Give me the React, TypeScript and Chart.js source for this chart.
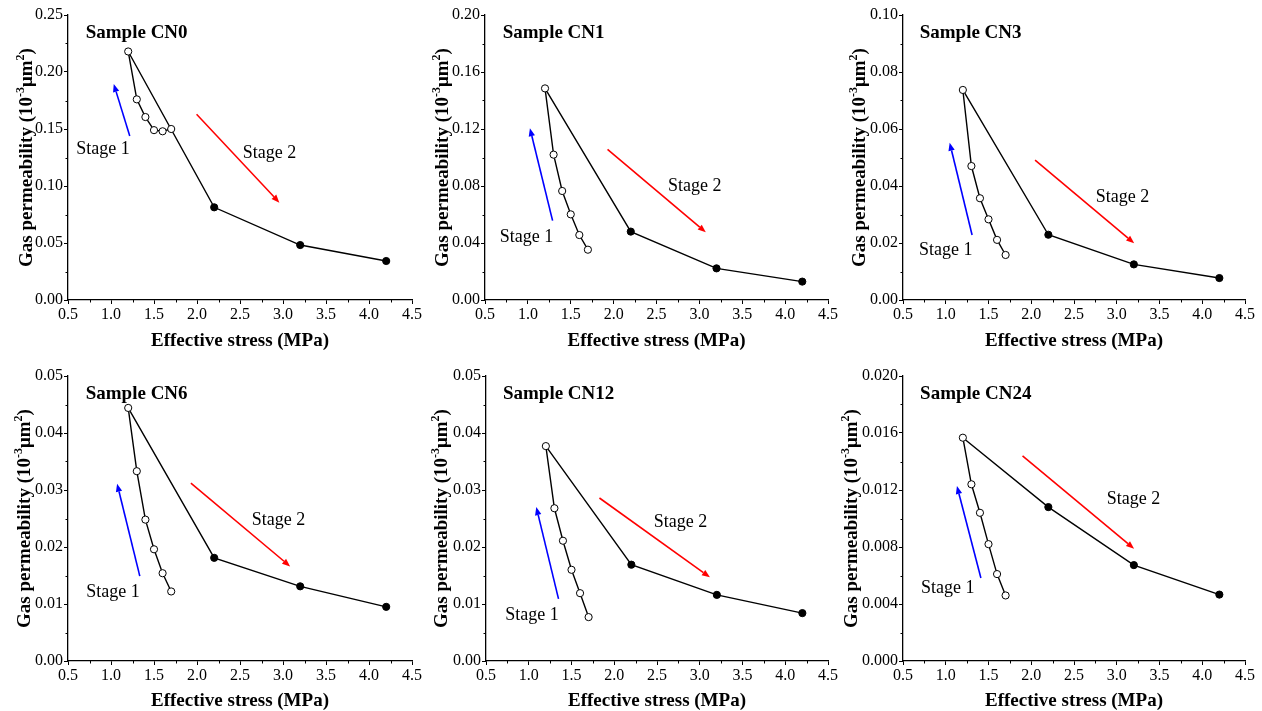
import React, { useEffect, useRef } from "react";
import { Chart, registerables } from "chart.js";

Chart.register(...registerables);

// ---------------- DATA ----------------
const stressStage1 = [1.2, 1.3, 1.4, 1.5, 1.6, 1.7];
const stressStage2 = [1.2, 2.2, 3.2, 4.2];

const sampleNames = ["Sample CN0", "Sample CN1", "Sample CN3", "Sample CN6", "Sample CN12", "Sample CN24"];

const cn0Stage1 = [0.218, 0.176, 0.1605, 0.149, 0.148, 0.15];
const cn0Stage2 = [0.218, 0.0813, 0.0482, 0.0342];
const cn1Stage1 = [0.1485, 0.102, 0.0765, 0.0601, 0.0456, 0.0353];
const cn1Stage2 = [0.1485, 0.048, 0.0222, 0.0129];
const cn3Stage1 = [0.0737, 0.047, 0.0357, 0.0283, 0.0211, 0.0158];
const cn3Stage2 = [0.0737, 0.0229, 0.0125, 0.0077];
const cn6Stage1 = [0.0444, 0.0333, 0.0248, 0.0196, 0.0154, 0.0122];
const cn6Stage2 = [0.0444, 0.0181, 0.0131, 0.0095];
const cn12Stage1 = [0.0377, 0.0268, 0.0211, 0.016, 0.0119, 0.0077];
const cn12Stage2 = [0.0377, 0.0169, 0.0116, 0.0084];
const cn24Stage1 = [0.01567, 0.0124, 0.0104, 0.0082, 0.0061, 0.0046];
const cn24Stage2 = [0.01567, 0.0108, 0.00673, 0.00466];

const stage1Series = [cn0Stage1, cn1Stage1, cn3Stage1, cn6Stage1, cn12Stage1, cn24Stage1];
const stage2Series = [cn0Stage2, cn1Stage2, cn3Stage2, cn6Stage2, cn12Stage2, cn24Stage2];

const xMin = 0.5;
const xMax = 4.5;
const xStep = 0.5;
const yMaxes = [0.25, 0.2, 0.1, 0.05, 0.05, 0.02];
const ySteps = [0.05, 0.04, 0.02, 0.01, 0.01, 0.004];
const yDecimals = [2, 2, 2, 2, 2, 3];

const xTitle = "Effective stress (MPa)";
const stage1Label = "Stage 1";
const stage2Label = "Stage 2";

// annotation anchors in data units: [xStart, yStart, xHead, yHead]
const stage1Arrows = [
  [1.218, 0.1439, 1.032, 0.1895],
  [1.288, 0.0557, 1.024, 0.1205],
  [1.308, 0.0228, 1.046, 0.0552],
  [1.335, 0.0149, 1.071, 0.0311],
  [1.348, 0.0109, 1.088, 0.027],
  [1.411, 0.00582, 1.131, 0.01228],
];
const stage2Arrows = [
  [1.995, 0.1629, 2.958, 0.0854],
  [1.929, 0.1057, 3.075, 0.0475],
  [2.045, 0.0491, 3.204, 0.0199],
  [1.929, 0.0312, 3.083, 0.0166],
  [1.827, 0.0286, 3.119, 0.0147],
  [1.898, 0.01439, 3.203, 0.00788],
];
const stage1LabelAt = [[0.908, 0.132], [0.985, 0.044], [1.0, 0.0173], [1.024, 0.012], [1.037, 0.008], [1.022, 0.00512]];
const stage2LabelAt = [[2.842, 0.129], [2.947, 0.08], [3.068, 0.036], [2.947, 0.0247], [2.776, 0.0244], [3.195, 0.01135]];
const sampleLabelAt = [[0.706, 0.234], [0.706, 0.187], [0.695, 0.0936], [0.706, 0.0469], [0.698, 0.0469], [0.7, 0.01876]];

// ---------------- LAYOUT ----------------
const layouts = [
  { left: 0, top: 0, w: 440, h: 355, yW: 68, padR: 28, padT: 15, xH: 55, yTitleX: 25 },
  { left: 420, top: 0, w: 440, h: 355, yW: 65, padR: 32, padT: 15, xH: 55, yTitleX: 21 },
  { left: 840, top: 0, w: 422, h: 355, yW: 63, padR: 17, padT: 15, xH: 55, yTitleX: 18 },
  { left: 0, top: 355, w: 440, h: 360, yW: 68, padR: 28, padT: 21, xH: 54, yTitleX: 23 },
  { left: 420, top: 355, w: 440, h: 360, yW: 66, padR: 32, padT: 21, xH: 54, yTitleX: 20 },
  { left: 840, top: 355, w: 422, h: 360, yW: 63, padR: 17, padT: 21, xH: 54, yTitleX: 10 },
];

const SERIF = "'Liberation Serif', 'Times New Roman', serif";

function drawArrow(ctx: CanvasRenderingContext2D, x1: number, y1: number, x2: number, y2: number, color: string) {
  const ang = Math.atan2(y2 - y1, x2 - x1);
  const headLen = 8;
  const headHalf = 3.2;
  const bx = x2 - headLen * Math.cos(ang);
  const by = y2 - headLen * Math.sin(ang);
  ctx.save();
  ctx.strokeStyle = color;
  ctx.fillStyle = color;
  ctx.lineWidth = 1.6;
  ctx.beginPath();
  ctx.moveTo(x1, y1);
  ctx.lineTo(bx, by);
  ctx.stroke();
  ctx.beginPath();
  ctx.moveTo(x2, y2);
  ctx.lineTo(bx + headHalf * Math.sin(ang), by - headHalf * Math.cos(ang));
  ctx.lineTo(bx - headHalf * Math.sin(ang), by + headHalf * Math.cos(ang));
  ctx.closePath();
  ctx.fill();
  ctx.restore();
}

function makePlugin(idx: number) {
  return {
    id: "panelDecor" + idx,
    afterDraw(chart: any) {
      const ctx: CanvasRenderingContext2D = chart.ctx;
      const xs = chart.scales.x;
      const ys = chart.scales.y;
      const area = chart.chartArea;
      // minor ticks
      ctx.save();
      ctx.strokeStyle = "#000";
      ctx.lineWidth = 1;
      const xt = xs.ticks.map((t: any) => t.value);
      for (let i = 0; i < xt.length - 1; i++) {
        const px = Math.round(xs.getPixelForValue((xt[i] + xt[i + 1]) / 2)) + 0.5;
        ctx.beginPath();
        ctx.moveTo(px, area.bottom);
        ctx.lineTo(px, area.bottom + 2.5);
        ctx.stroke();
      }
      const yt = ys.ticks.map((t: any) => t.value);
      for (let i = 0; i < yt.length - 1; i++) {
        const py = Math.round(ys.getPixelForValue((yt[i] + yt[i + 1]) / 2)) + 0.5;
        ctx.beginPath();
        ctx.moveTo(area.left, py);
        ctx.lineTo(area.left - 2.5, py);
        ctx.stroke();
      }
      ctx.restore();

      // arrows
      const a1 = stage1Arrows[idx];
      drawArrow(ctx, xs.getPixelForValue(a1[0]), ys.getPixelForValue(a1[1]), xs.getPixelForValue(a1[2]), ys.getPixelForValue(a1[3]), "#0000ff");
      const a2 = stage2Arrows[idx];
      drawArrow(ctx, xs.getPixelForValue(a2[0]), ys.getPixelForValue(a2[1]), xs.getPixelForValue(a2[2]), ys.getPixelForValue(a2[3]), "#ff0000");

      // labels
      ctx.save();
      ctx.fillStyle = "#000";
      ctx.textBaseline = "middle";
      ctx.font = `18px ${SERIF}`;
      ctx.textAlign = "center";
      ctx.fillText(stage1Label, xs.getPixelForValue(stage1LabelAt[idx][0]), ys.getPixelForValue(stage1LabelAt[idx][1]));
      ctx.fillText(stage2Label, xs.getPixelForValue(stage2LabelAt[idx][0]), ys.getPixelForValue(stage2LabelAt[idx][1]));
      ctx.font = `bold 19px ${SERIF}`;
      ctx.textAlign = "left";
      ctx.fillText(sampleNames[idx], xs.getPixelForValue(sampleLabelAt[idx][0]), ys.getPixelForValue(sampleLabelAt[idx][1]));
      ctx.restore();

      // y-axis title with superscripts
      const L = layouts[idx];
      const cy = (area.top + area.bottom) / 2;
      const mainFont = `bold 19px ${SERIF}`;
      const supFont = `bold 12px ${SERIF}`;
      const parts: [string, boolean][] = [
        ["Gas permeability (10", false],
        ["-3", true],
        ["\u03bcm", false],
        ["2", true],
        [")", false],
      ];
      ctx.save();
      ctx.translate(L.yTitleX, cy);
      ctx.rotate(-Math.PI / 2);
      ctx.fillStyle = "#000";
      ctx.textBaseline = "alphabetic";
      ctx.textAlign = "left";
      let total = 0;
      const widths = parts.map(([t, sup]) => {
        ctx.font = sup ? supFont : mainFont;
        const w = ctx.measureText(t).width;
        total += w;
        return w;
      });
      let x = -total / 2;
      const base = 6.5;
      parts.forEach(([t, sup], i) => {
        ctx.font = sup ? supFont : mainFont;
        ctx.fillText(t, x, sup ? base - 7.5 : base);
        x += widths[i];
      });
      ctx.restore();
    },
  };
}

function Panel({ idx }: { idx: number }) {
  const ref = useRef<HTMLCanvasElement>(null);
  const L = layouts[idx];
  useEffect(() => {
    if (!ref.current) return;
    const s1 = stage1Series[idx];
    const s2 = stage2Series[idx];
    const dec = yDecimals[idx];
    const chart = new Chart(ref.current, {
      type: "scatter",
      data: {
        datasets: [
          {
            label: "Stage 1",
            data: stressStage1.map((x, i) => ({ x, y: s1[i] })),
            showLine: true,
            borderColor: "#000",
            borderWidth: 1.4,
            pointRadius: 3.6,
            pointBackgroundColor: "#fff",
            pointBorderColor: "#000",
            pointBorderWidth: 1,
            tension: 0,
          },
          {
            label: "Stage 2",
            data: stressStage2.map((x, i) => ({ x, y: s2[i] })),
            showLine: true,
            borderColor: "#000",
            borderWidth: 1.4,
            pointRadius: (c: any) => (c.dataIndex === 0 ? 0 : 3.6),
            pointBackgroundColor: "#000",
            pointBorderColor: "#000",
            pointBorderWidth: 1,
            tension: 0,
          },
        ],
      },
      options: {
        animation: false,
        responsive: false,
        devicePixelRatio: 1,
        layout: { padding: { left: 0, top: L.padT, right: L.padR, bottom: 0 } },
        plugins: { legend: { display: false }, tooltip: { enabled: false } },
        scales: {
          x: {
            type: "linear",
            min: xMin,
            max: xMax,
            afterFit: (s: any) => {
              s.height = L.xH;
            },
            ticks: {
              stepSize: xStep,
              autoSkip: false,
              maxRotation: 0,
              padding: 1,
              color: "#000",
              font: { family: SERIF, size: 16 },
              callback: (v: any) => Number(v).toFixed(1),
            },
            grid: { display: true, drawOnChartArea: false, drawTicks: true, tickLength: 4, color: "#000", lineWidth: 1 },
            border: { display: true, color: "#000", width: 1.3 },
            title: {
              display: true,
              text: xTitle,
              color: "#000",
              font: { family: SERIF, size: 19, weight: "bold" },
              padding: { top: 0, bottom: 3 },
            },
          },
          y: {
            type: "linear",
            min: 0,
            max: yMaxes[idx],
            afterFit: (s: any) => {
              s.width = L.yW;
            },
            ticks: {
              stepSize: ySteps[idx],
              autoSkip: false,
              padding: 1,
              color: "#000",
              font: { family: SERIF, size: 16 },
              callback: (v: any) => Number(v).toFixed(dec),
            },
            grid: { display: true, drawOnChartArea: false, drawTicks: true, tickLength: 4, color: "#000", lineWidth: 1 },
            border: { display: true, color: "#000", width: 1.3 },
            title: { display: false },
          },
        },
      },
      plugins: [makePlugin(idx)],
    } as any);
    return () => chart.destroy();
  }, [idx]);
  return (
    <canvas
      ref={ref}
      width={L.w}
      height={L.h}
      style={{ position: "absolute", left: L.left, top: L.top, width: L.w, height: L.h }}
    />
  );
}

export default function App() {
  return (
    <div
      style={{
        position: "fixed",
        left: 0,
        top: 0,
        width: 1262,
        height: 711,
        overflow: "hidden",
        background: "#fff",
      }}
    >
      {[0, 1, 2, 3, 4, 5].map((i) => (
        <Panel key={i} idx={i} />
      ))}
    </div>
  );
}
